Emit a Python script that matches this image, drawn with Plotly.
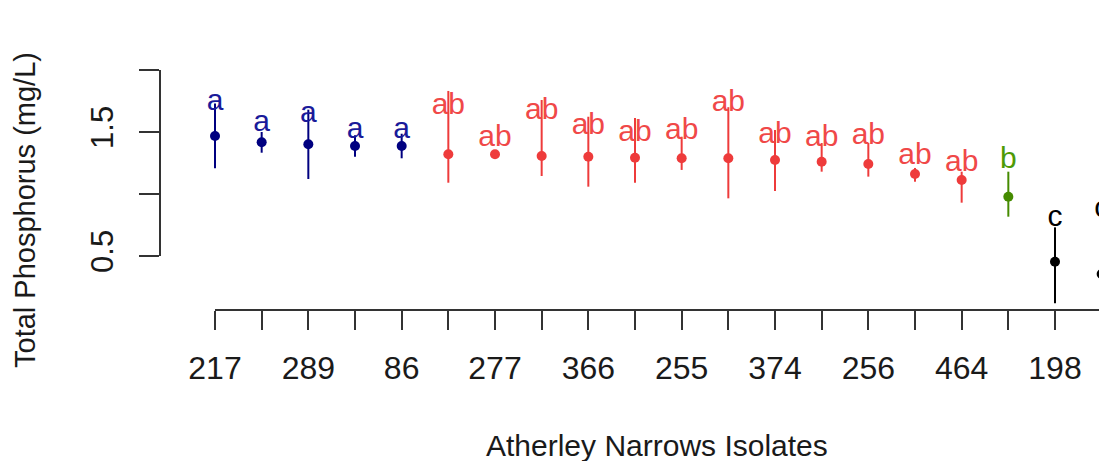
import plotly.graph_objects as go

# ---- data ----
isolate_labels = ["217", "", "289", "", "86", "", "277", "", "366", "",
                  "255", "", "374", "", "256", "", "464", "", "198", ""]
means = [1.468, 1.417, 1.401, 1.387, 1.387, 1.320, 1.320, 1.306, 1.301, 1.293,
         1.288, 1.288, 1.274, 1.260, 1.242, 1.161, 1.113, 0.978, 0.454, 0.355]
lower = [1.207, 1.333, 1.121, 1.301, 1.288, 1.091, 1.306, 1.145, 1.059, 1.091,
         1.194, 0.965, 1.024, 1.180, 1.140, 1.099, 0.930, 0.817, 0.119, 0.150]
upper = [1.730, 1.500, 1.680, 1.473, 1.486, 1.831, 1.355, 1.758, 1.623, 1.613,
         1.462, 1.700, 1.516, 1.411, 1.411, 1.210, 1.180, 1.180, 0.731, 0.800]
letters = ["a", "a", "a", "a", "a", "ab", "ab", "ab", "ab", "ab",
           "ab", "ab", "ab", "ab", "ab", "ab", "ab", "b", "c", "c"]
letter_y = [1.738, 1.565, 1.645, 1.516, 1.516, 1.704, 1.449, 1.667, 1.543, 1.490,
            1.502, 1.731, 1.470, 1.444, 1.462, 1.301, 1.248, 1.269, 0.804, 0.879]
y_ticks = [0.5, 1.0, 1.5, 2.0]
y_ticktext = ["0.5", "", "1.5", ""]
group_colors = {"a": "#000080", "ab": "#EE3B3B", "b": "#458B00", "c": "#000000"}
text_colors = {"a": "#1a1a9a", "ab": "#F04848", "b": "#4E9A06", "c": "#000000"}

positions = list(range(1, len(means) + 1))

fig = go.Figure()
for grp, col in group_colors.items():
    idx = [i for i, l in enumerate(letters) if l == grp]
    xs = [positions[i] for i in idx]
    ys = [means[i] for i in idx]
    fig.add_trace(go.Scatter(
        x=xs, y=ys, mode="markers",
        marker=dict(color=col, size=10),
        error_y=dict(type="data", symmetric=False,
                     array=[upper[i] - means[i] for i in idx],
                     arrayminus=[means[i] - lower[i] for i in idx],
                     color=col, thickness=2, width=0),
        showlegend=False, hoverinfo="skip"))
    fig.add_trace(go.Scatter(
        x=xs, y=[letter_y[i] for i in idx], mode="text",
        text=[letters[i] for i in idx], textposition="middle center",
        textfont=dict(color=text_colors[grp], size=30, family="Liberation Sans"),
        showlegend=False, hoverinfo="skip"))

axis_col = "#333333"
# axis lines spanning only the tick range (R style)
fig.add_shape(type="line", xref="x", yref="paper", x0=positions[0], x1=positions[-1],
              y0=0, y1=0, line=dict(color=axis_col, width=2))
fig.add_shape(type="line", xref="paper", yref="y", x0=0, x1=0,
              y0=min(y_ticks), y1=max(y_ticks), line=dict(color=axis_col, width=2))

fig.update_layout(
    width=1099, height=461,
    margin=dict(l=160, r=0, t=0, b=151, autoexpand=False),
    paper_bgcolor="white", plot_bgcolor="white",
    font=dict(family="Liberation Sans", color="#1a1a1a"),
    xaxis=dict(range=[-0.1786, 19.943], tickmode="array", tickvals=positions,
               ticktext=isolate_labels, ticks="outside", ticklen=19, tickwidth=2,
               tickcolor=axis_col, showgrid=False, zeroline=False, showline=False,
               tickangle=0, tickfont=dict(size=32, color="#1a1a1a"),
               ticklabelstandoff=11),
    yaxis=dict(range=[0.0645, 2.5645], tickmode="array", tickvals=y_ticks,
               ticktext=y_ticktext, ticks="outside", ticklen=20, tickwidth=2,
               tickcolor=axis_col, showgrid=False, zeroline=False, showline=False,
               tickangle=-90, tickfont=dict(size=31, color="#1a1a1a"),
               ticklabelstandoff=14),
    annotations=[
        dict(text="Total Phosphorus (mg/L)", xref="paper", yref="paper",
             x=(25 - 160) / 939, y=(310 - 210) / 310, textangle=-90,
             showarrow=False, xanchor="center", yanchor="middle",
             font=dict(size=29, color="#1a1a1a")),
        dict(text="Atherley Narrows Isolates", xref="paper", yref="paper",
             x=(657 - 160) / 939, y=(310 - 445) / 310,
             showarrow=False, xanchor="center", yanchor="middle",
             font=dict(size=30, color="#1a1a1a")),
    ],
)

fig.write_html("out.html")
